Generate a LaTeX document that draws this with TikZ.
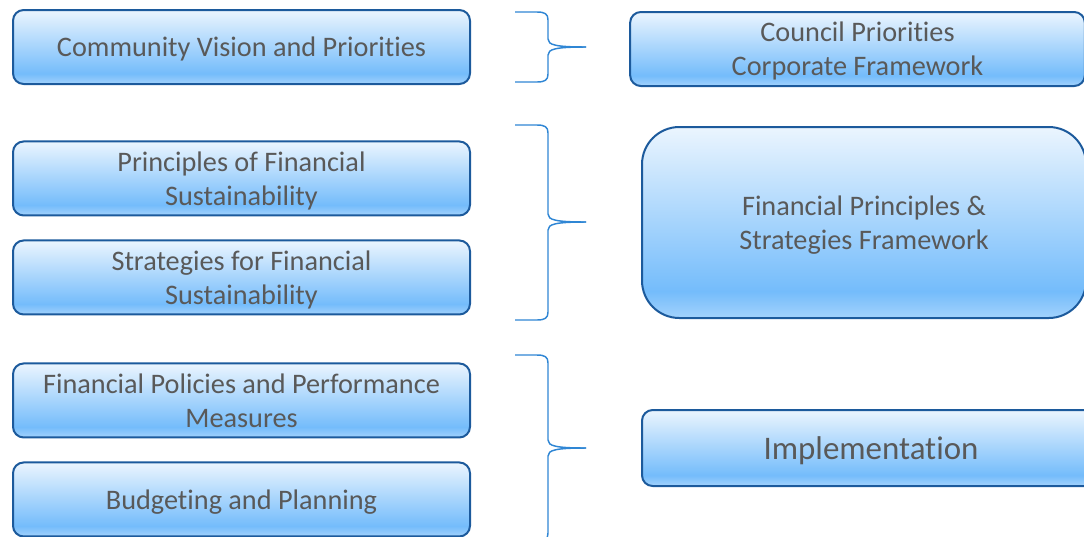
\documentclass[tikz,border=0pt]{standalone}
\usepackage{fontspec}
\setmainfont{Carlito}[RawFeature = -liga]
\usetikzlibrary{positioning}
\definecolor{BoxEdge}{HTML}{1C5A9C}
\definecolor{BoxTop}{HTML}{EBF5FE}
\definecolor{BoxMid}{HTML}{74BCFB}
\definecolor{BoxLow}{HTML}{A3D2FC}
\definecolor{BoxText}{HTML}{595959}
\definecolor{BraceBlue}{HTML}{2F86D4}
\pgfdeclareverticalshading{boxfill}{100bp}{color(0bp)=(BoxLow); color(25bp)=(BoxLow); color(32bp)=(BoxMid); color(75bp)=(BoxTop); color(100bp)=(BoxTop)}

\begin{document}
\begin{tikzpicture}[x = 0.75pt, y = -0.75pt]%
    %
    \def\boxwidth{342.75pt}%
    \def\boxheight{55.5pt}%
    %
    \tikzstyle{stage} = [draw = BoxEdge, line width = 1.5pt, rounded corners = 8pt, shading = boxfill, text = BoxText, font = \fontsize{21.2}{25.5}\selectfont, align = center, text depth = 0pt, minimum width = \boxwidth, minimum height = \boxheight]%
    \tikzstyle{bracket} = [draw = BraceBlue, line width = 1.1pt]%
    %
    \useasboundingbox (0, 0) rectangle (1084, 536);%
    \clip (0, 0) rectangle (1084, 536);%
    %
    % Left column
    \node (vision) [stage] at (241.5, 47) {Community Vision and Priorities};%
    \node (principles) [stage, below = 41.6pt of vision] {Principles of Financial\\Sustainability};%
    \node (strategies) [stage, below = 17.25pt of principles] {Strategies for Financial\\Sustainability};%
    \node (policies) [stage, below = 35.25pt of strategies] {Financial Policies and Performance\\Measures};%
    \node (budgeting) [stage, below = 17.25pt of policies] {Budgeting and Planning};%
    %
    % Right column
    \node (council) [stage, minimum width = 341pt] at (857.5, 49) {Council Priorities\\Corporate Framework};%
    \node (framework) [stage, minimum width = 333pt, minimum height = 143.25pt, rounded corners = 28pt] at (864, 222.5) {Financial Principles \&\\Strategies Framework};%
    \node (implementation) [stage, minimum width = 343.5pt, minimum height = 57pt, font = \fontsize{24.7}{26}\selectfont] at (871, 448) {Implementation};%
    %
    % Braces
    \foreach \t/\m/\b in {12/47/82, 125/222/320, 355/448/541} {%
        \draw [bracket] (515, \t) -- (537, \t) .. controls (545, \t) and (548, \t+2) .. (548, \t+8) -- (548, \m-8) .. controls (548, \m-2) and (556, \m) .. (586, \m);%
        \draw [bracket] (515, \b) -- (537, \b) .. controls (545, \b) and (548, \b-2) .. (548, \b-8) -- (548, \m+8) .. controls (548, \m+2) and (556, \m) .. (586, \m);%
    }%
    %
\end{tikzpicture}
\end{document}
